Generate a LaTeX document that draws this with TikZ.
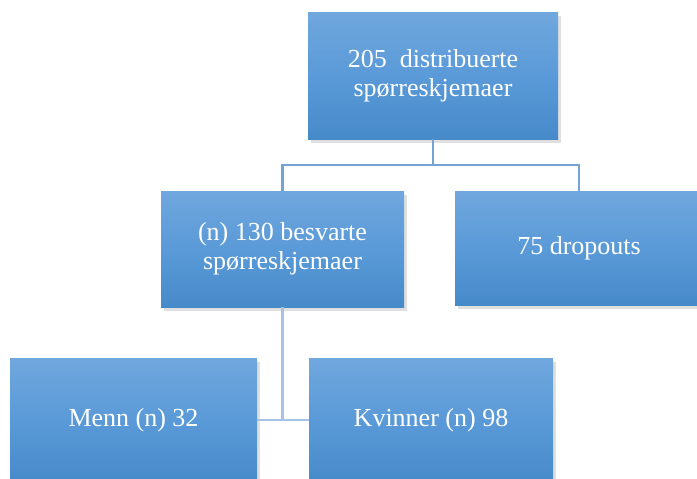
\documentclass[tikz,border=0pt]{standalone}
\usepackage{fontspec}
\setmainfont{Liberation Serif}
\usetikzlibrary{shadows}

\definecolor{boxtop}{HTML}{70A7DD}
\definecolor{boxmid}{HTML}{5A9AD8}
\definecolor{boxbot}{HTML}{478ACA}
\definecolor{linkcol}{HTML}{76A3D6}
\definecolor{linklight}{HTML}{A6C3E5}

\tikzset{
    card/.style={rectangle, draw=none, text=white, align=center,
        top color=boxtop, bottom color=boxbot, middle color=boxmid,
        font=\fontsize{26}{29}\selectfont,
        drop shadow={opacity=0.25, shadow xshift=3pt, shadow yshift=-4pt}},
    link/.style={draw=linkcol, line width=2.8pt},
    linklight/.style={draw=linklight, line width=2.8pt}
}

\begin{document}
\begin{tikzpicture}[x=1pt, y=-1pt]
    \useasboundingbox (0,0) rectangle (697,479);
    \clip (0,0) rectangle (697,479);

    \node[card, minimum width=250pt, minimum height=127pt] (total) at (433,75.5)
        {205\ \ distribuerte\\spørreskjemaer};
    \node[card, minimum width=243pt, minimum height=116pt] (answered) at (282.5,249)
        {(n) 130 besvarte\\spørreskjemaer};
    \node[card, minimum width=248pt, minimum height=114pt] (dropouts) at (579,248)
        {75 dropouts};
    \node[card, minimum width=247pt, minimum height=124pt] (men) at (133.5,420)
        {Menn (n) 32};
    \node[card, minimum width=244pt, minimum height=124pt] (women) at (431,420)
        {Kvinner (n) 98};

    \coordinate (split) at (433,165);
    \draw[link] (total.south) -- (split) -| (answered.north);
    \draw[link] (split) -| (dropouts.north);

    \draw[linklight] (answered.south) -- (answered.south |- men.east);
    \draw[linklight] (men.east) -- (women.west);

\end{tikzpicture}
\end{document}
